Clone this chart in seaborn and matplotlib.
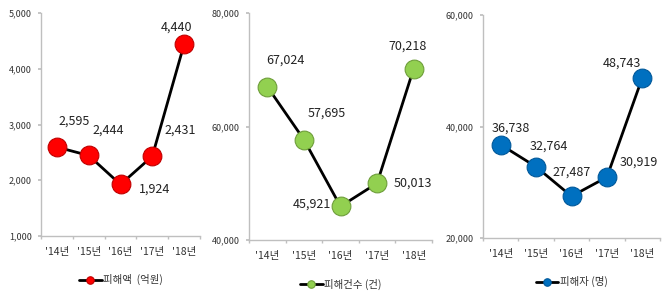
import matplotlib
matplotlib.use("Agg")
import matplotlib.pyplot as plt
import seaborn as sns
import pandas as pd
from matplotlib.ticker import FuncFormatter

sns.set_theme(style="white")
plt.rcParams['font.family'] = ['Noto Sans CJK KR', 'DejaVu Sans']

years = ["'14년", "'15년", "'16년", "'17년", "'18년"]
amount = [2595, 2444, 1924, 2431, 4440]          # 피해액 (억원)
cases = [67024, 57695, 45921, 50013, 70218]      # 피해건수 (건)
victims = [36738, 32764, 27487, 30919, 48743]    # 피해자 (명)

labels = ["피해액  (억원)", "피해건수 (건)", "피해자 (명)"]
series = [amount, cases, victims]
ylims = [(1000, 5000), (40000, 80000), (20000, 60000)]
yticks = [[1000, 2000, 3000, 4000, 5000], [40000, 60000, 80000], [20000, 40000, 60000]]
faces = ["#FF0000", "#92D050", "#0070C0"]
edges = ["#C00000", "#6E9E3A", "#00589A"]
# label offsets in pixels (dx, dy)
offsets = [
    [(17, 26), (20, 25), (34, -5), (28, 26), (-8, 17)],
    [(18, 26), (23, 26), (-29, 2), (36, 0), (-6, 22)],
    [(10, 17), (13, 21), (0, 24), (32, 15), (-20, 15)],
]
positions = [
    [41/670, 1-236/293, 159/670, 223/293],
    [249/670, 1-240/293, 183/670, 227/293],
    [483/670, 1-238/293, 177/670, 223/293],
]

fig = plt.figure(figsize=(6.7, 2.93), dpi=100)
fig.patch.set_facecolor("white")
axis_grey = "#BFBFBF"

for i in range(3):
    ax = fig.add_axes(positions[i])
    df = pd.DataFrame({"x": list(range(5)), "y": series[i]})
    sns.lineplot(data=df, x="x", y="y", ax=ax, color="black", linewidth=2.0,
                 marker="o", markersize=13.5, markerfacecolor=faces[i],
                 markeredgecolor=edges[i], markeredgewidth=0.8, label=labels[i])
    ax.set_xlim(-0.5, 4.5)
    ax.set_ylim(*ylims[i])
    ax.set_xticks(range(5))
    ax.set_xticklabels(years, fontsize=7.5, color="#333333")
    ax.set_xticks([k - 0.5 for k in range(6)], minor=True)
    ax.tick_params(axis="x", which="major", length=0, pad=8)
    ax.tick_params(axis="x", which="minor", length=2.5, color=axis_grey, direction="out", bottom=True)
    ax.set_yticks(yticks[i])
    ax.yaxis.set_major_formatter(FuncFormatter(lambda v, p: f"{int(v):,}"))
    ax.tick_params(axis="y", labelsize=6.5, length=2.5, color=axis_grey, direction="out", left=True,
                   labelcolor="#333333", pad=4)
    ax.set_xlabel("")
    ax.set_ylabel("")
    for s in ["top", "right"]:
        ax.spines[s].set_visible(False)
    for s in ["left", "bottom"]:
        ax.spines[s].set_color(axis_grey)
        ax.spines[s].set_linewidth(1.0)
    for k, v in enumerate(series[i]):
        dx, dy = offsets[i][k]
        ax.annotate(f"{v:,}", (k, v), xytext=(dx, dy), textcoords="offset pixels",
                    ha="center", va="center", fontsize=9, color="#222222")
    leg = ax.legend(loc="upper center", bbox_to_anchor=(0.5, -0.13), frameon=False,
                    fontsize=7.5, handlelength=2.2, handletextpad=0.1, markerscale=0.4)
    for t in leg.get_texts():
        t.set_color("#333333")

fig.savefig("out.png", dpi=100, facecolor="white")
